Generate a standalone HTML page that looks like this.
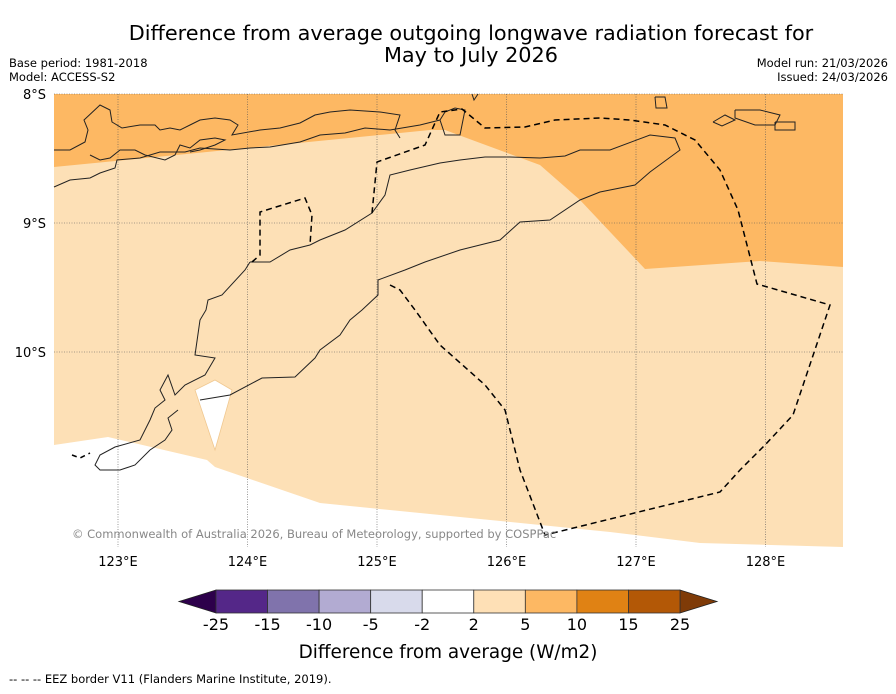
<!DOCTYPE html>
<html><head><meta charset="utf-8"><style>
body{margin:0;background:#fff;width:896px;height:690px;overflow:hidden;font-family:"DejaVu Sans","Liberation Sans",sans-serif;}
svg text{font-family:"DejaVu Sans","Liberation Sans",sans-serif;}
</style></head><body>
<svg id="chart" width="896" height="690" xmlns="http://www.w3.org/2000/svg">
<text x="471" y="40" font-size="20.8" text-anchor="middle">Difference from average outgoing longwave radiation forecast for</text>
<text x="471" y="62" font-size="20.8" text-anchor="middle">May to July 2026</text>
<text x="9" y="67" font-size="11.5">Base period: 1981-2018</text>
<text x="9" y="81" font-size="11.5">Model: ACCESS-S2</text>
<text x="888" y="67" font-size="11.5" text-anchor="end">Model run: 21/03/2026</text>
<text x="888" y="81" font-size="11.5" text-anchor="end">Issued: 24/03/2026</text>
<g>
<polygon fill="#fde0b6" points="54,94 843,94 843,547 700,543 610,532 320,503 215,467 207,460 108,437 54,445"/>
<polygon fill="#fdb863" points="54,94 843,94 843,267 760,261 645,269 580,200 540,165 445,130 430,130 54,167"/>
<polygon fill="#fff" stroke="#f0c890" stroke-width="0.8" points="195,390 215,380 232,390 215,450"/>
<g id="grid" stroke="#555" stroke-width="0.6" stroke-dasharray="1,1.5"></g>
<g fill="none" stroke="#222" stroke-width="1">
<polyline points="54,187 70,180 90,178 100,173 115,168 117,160 140,158 160,152 185,152 200,148 230,150 250,148 270,147 300,142 320,135 345,133 365,128 390,130 420,125 440,120"/>
<polyline points="54,150 70,150 85,142 88,130 84,120 100,105 110,110 112,122 122,128 140,125 155,125 160,130 170,128 180,130 190,125 200,120 215,118 230,120 238,125 232,135 260,130 280,128 300,123 315,115 330,112 350,110 380,112 400,115 395,130 400,138"/>
<polyline points="90,155 100,160 110,158 120,150 135,150 145,155 165,160 175,155 180,145 190,148 200,140 215,138 225,140 215,145 200,150 190,152"/>
<polyline points="250,262 245,270 222,295 208,300 206,310 200,320 195,355 215,358 205,375 185,385 175,395 168,375 160,390 165,400 155,408 150,420 140,440 115,447 100,455 95,465 100,470 120,470 135,465 150,450 165,440 172,430 168,418 178,410"/>
<polyline points="200,400 230,395 262,378 295,377 315,358 320,350 340,335 350,320 362,310 378,295 378,280 405,270 425,262 460,250 480,245 500,240 520,222 550,220 580,200 600,192 635,185 650,172 680,150 675,138 650,135 610,150 580,150 565,156 540,158 510,157 485,157 460,160 440,163 410,170 390,175 385,195 372,213 345,230 320,240 310,245 290,250 270,262 250,262"/>
<polyline points="440,120 445,112 455,108 465,110 460,135 445,135 440,120"/>
<polyline points="735,110 760,110 780,115 775,125 755,125 735,118 735,110"/>
<polyline points="775,122 795,122 795,130 775,130 775,122"/>
<polyline points="655,97 665,97 667,108 656,108 655,97"/>
<polyline points="713,122 725,115 735,120 722,126 713,122"/>
<polyline points="472,94 474,100 478,94"/>
</g>
<polyline fill="none" stroke="#000" stroke-width="1.5" stroke-dasharray="6,4" points="390,285 400,290 415,310 440,345 485,385 505,410 520,470 545,535 720,492 740,470 765,445 793,415 830,305 757,284 738,210 720,170 695,140 665,125 630,120 600,118 555,120 525,127 485,128 462,109 440,112 425,145 377,162 372,213"/>
<polyline fill="none" stroke="#000" stroke-width="1.5" stroke-dasharray="6,4" points="252,262 260,255 260,212 305,198 312,215 310,245"/>
<polyline fill="none" stroke="#000" stroke-width="1.5" stroke-dasharray="5,4" points="72,455 80,458 90,453"/>
</g>
<g id="axes"></g>
<text x="72" y="538" font-size="11.5" fill="#888">© Commonwealth of Australia 2026, Bureau of Meteorology, supported by COSPPac</text>
<g id="cbar"></g>
<text x="448" y="658" font-size="18.4" text-anchor="middle">Difference from average (W/m2)</text>
<text x="9" y="683" font-size="11.5">--  --  -- EEZ border V11 (Flanders Marine Institute, 2019).</text>
</svg>
<script>
const lonTicks=[123,124,125,126,127,128];
const latTicks=[8,9,10];
const cbarLevels=["-25","-15","-10","-5","-2","2","5","10","15","25"];
const cbarColors=["#542788","#8073ac","#b2abd2","#d8daeb","#ffffff","#fee0b6","#fdb863","#e08214","#b35806"];
const NS="http://www.w3.org/2000/svg";
const x0=54,x1=843,y0=94,y1=547;
const lonX=l=>118+(l-123)*129.5;
const latY=l=>94+(l-8)*129;
const grid=document.getElementById('grid'),axes=document.getElementById('axes');
function mk(t,a,p){const e=document.createElementNS(NS,t);for(const k in a)e.setAttribute(k,a[k]);p.appendChild(e);return e;}
lonTicks.forEach(l=>{const x=lonX(l);
const g=mk('line',{x1:x,x2:x,y1:y0,y2:y1},grid);


const t=mk('text',{x:x,y:566,'font-size':13,'text-anchor':'middle'},axes);t.textContent=l+'°E';

});
latTicks.forEach(l=>{const y=latY(l);
const g=mk('line',{x1:x0,x2:x1,y1:y,y2:y},grid);


const t=mk('text',{x:46,y:y+5,'font-size':13,'text-anchor':'end'},axes);t.textContent=l+'°S';

});
const cb=document.getElementById('cbar');
const cx0=216,cx1=680,cy=590,ch=23,w=(cx1-cx0)/cbarColors.length;
const lt=mk('polygon',{points:`${cx0},${cy} ${cx0},${cy+ch} 179,${cy+ch/2}`,fill:'#2d004b',stroke:'#222','stroke-width':0.8},cb);


const rt=mk('polygon',{points:`${cx1},${cy} ${cx1},${cy+ch} 717,${cy+ch/2}`,fill:'#7f3b08',stroke:'#222','stroke-width':0.8},cb);


cbarColors.forEach((c,i)=>{const r=mk('rect',{x:cx0+i*w,y:cy,width:w,height:ch,fill:c,stroke:'#333','stroke-width':0.8},cb);

});
cbarLevels.forEach((s,i)=>{const t=mk('text',{x:cx0+i*w,y:630,'font-size':16,'text-anchor':'middle'},cb);t.textContent=s;

});
</script>
</body></html>
